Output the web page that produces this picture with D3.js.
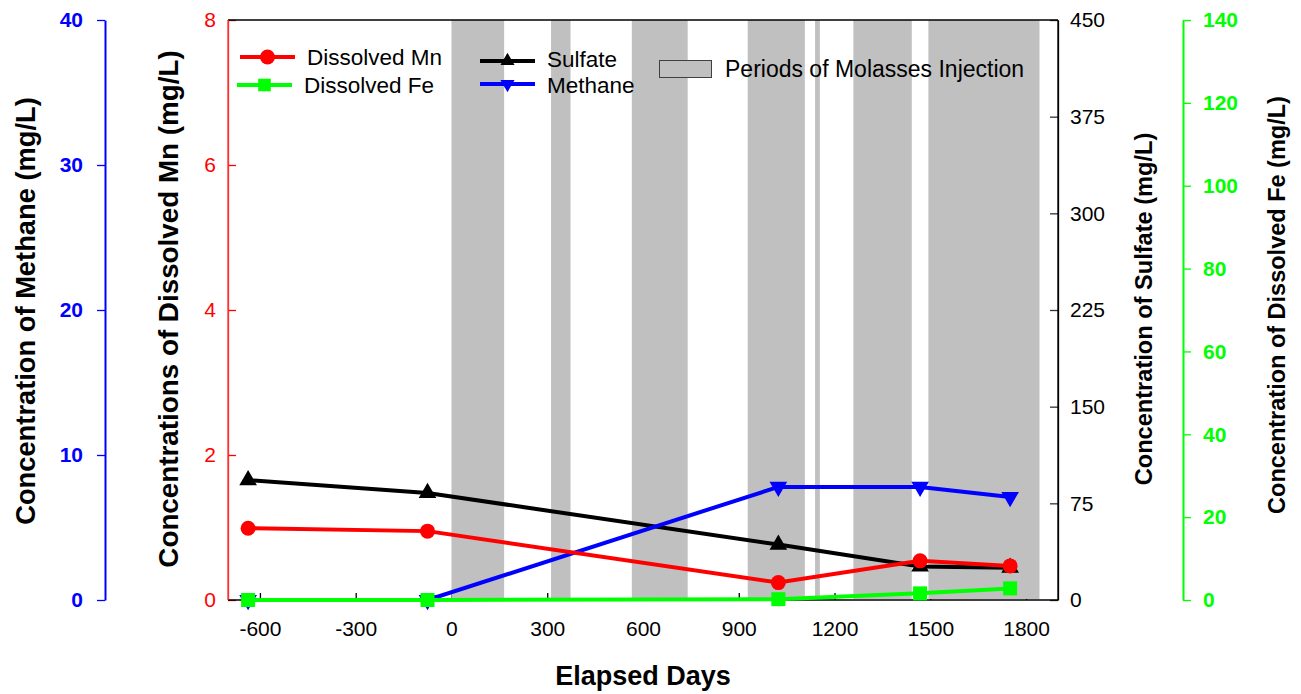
<!DOCTYPE html>
<html><head><meta charset="utf-8">
<script src="https://cdn.jsdelivr.net/npm/d3@7"></script>
<style>
body{margin:0;background:#fff;}
svg{display:block;font-family:"Liberation Sans",Arial,sans-serif;}
</style></head>
<body><svg id="c" width="1301" height="694"></svg>
<script>
const days = [-637, -75, 1024, 1468, 1750];
const mn = [0.99, 0.95, 0.24, 0.54, 0.47];
const fe = [0, 0, 0.2, 1.6, 2.8];
const sulfate = [93, 83, 43, 26, 25];
const methane = [0, 0, 7.8, 7.8, 7.1];
const periods = [[0,165],[312,373],[565,740],[928,1107],[1139,1154],[1259,1442],[1494,1842]];
const xTicks = [-600,-300,0,300,600,900,1200,1500,1800];
const mnTicks = [0,2,4,6,8];
const sulTicks = [0,75,150,225,300,375,450];
const methTicks = [0,10,20,30,40];
const feTicks = [0,20,40,60,80,100,120,140];

const svg = d3.select("#c");
const L=228,R=1058,T=20,B=600;
const x = d3.scaleLinear([-700,1900],[L,R]);
const yMn = d3.scaleLinear([0,8],[B,T]);
const ySul = d3.scaleLinear([0,450],[B,T]);
const yMe = d3.scaleLinear([0,40],[B,T]);
const yFe = d3.scaleLinear([0,140],[B,T]);
const fmt = d=>String(d).replace("\u2212","-");

function style(g,color,size,weight){
  g.selectAll("path.domain").attr("stroke",color).attr("stroke-width",1.3);
  g.selectAll(".tick line").attr("stroke",color).attr("stroke-width",1.3);
  g.selectAll(".tick text").attr("fill",color).attr("font-size",size).attr("font-weight",weight||"normal")
   .attr("font-family","Liberation Sans, Arial, sans-serif");
}
// x axis ticks (inward)
const gx = svg.append("g").attr("transform",`translate(0,${B})`)
  .call(d3.axisBottom(x).tickValues(xTicks).tickFormat(fmt).tickSizeInner(-7).tickSizeOuter(0).tickPadding(21));
style(gx,"#000",21);
gx.select("path.domain").remove();
// red Mn axis
const gMn = svg.append("g").attr("transform",`translate(${L},0)`)
  .call(d3.axisLeft(yMn).tickValues(mnTicks).tickFormat(fmt).tickSizeInner(-8).tickSizeOuter(0).tickPadding(12));
style(gMn,"#ff0000",21);
gMn.select("path.domain").attr("stroke","#ff3030");
// sulfate axis
const gS = svg.append("g").attr("transform",`translate(${R},0)`)
  .call(d3.axisRight(ySul).tickValues(sulTicks).tickFormat(fmt).tickSizeInner(-8).tickSizeOuter(0).tickPadding(12));
style(gS,"#000",21);
gS.selectAll(".tick line").attr("stroke","#333");
// methane axis
const gMe = svg.append("g").attr("transform",`translate(105,0)`)
  .call(d3.axisLeft(yMe).tickValues(methTicks).tickFormat(fmt).tickSizeInner(8).tickSizeOuter(0).tickPadding(14));
style(gMe,"#0000ff",21,"bold");
gMe.select("path.domain").attr("stroke-width",2);
// Fe axis
const gFe = svg.append("g").attr("transform",`translate(1183,0)`)
  .call(d3.axisRight(yFe).tickValues(feTicks).tickFormat(fmt).tickSizeInner(8).tickSizeOuter(0).tickPadding(12));
style(gFe,"#00ff00",21,"bold");
gFe.select("path.domain").attr("stroke-width",2);

// shaded periods
svg.append("g").selectAll("rect").data(periods).join("rect")
  .attr("x",d=>x(d[0])).attr("width",d=>x(d[1])-x(d[0]))
  .attr("y",T).attr("height",B-T-1).attr("fill","#c0c0c0");

// frame
svg.append("line").attr("x1",L).attr("x2",R).attr("y1",T).attr("y2",T).attr("stroke","#000").attr("stroke-width",1.3);
svg.append("line").attr("x1",L).attr("x2",R).attr("y1",B).attr("y2",B).attr("stroke","#000").attr("stroke-width",1.3);
svg.append("line").attr("x1",R).attr("x2",R).attr("y1",T).attr("y2",B).attr("stroke","#000").attr("stroke-width",1.3);
svg.append("line").attr("x1",L).attr("x2",L).attr("y1",T).attr("y2",B).attr("stroke","#ff3030").attr("stroke-width",1.3);

function series(vals,y,color,marker){
  const pts = days.map((d,i)=>[x(d),y(vals[i])]);
  svg.append("path").attr("d",d3.line()(pts)).attr("fill","none").attr("stroke",color).attr("stroke-width",4);
  const g = svg.append("g");
  pts.forEach(p=>drawMarker(g,p[0],p[1],color,marker,1));
}
function drawMarker(g,cx,cy,color,marker,s){
  if(marker==="circle") g.append("circle").attr("cx",cx).attr("cy",cy).attr("r",7.5*s).attr("fill",color);
  else if(marker==="square") g.append("rect").attr("x",cx-7*s).attr("y",cy-7*s).attr("width",14*s).attr("height",14*s).attr("fill",color);
  else if(marker==="up") g.append("path").attr("d",d3.symbol(d3.symbolTriangle,135*s*s)()).attr("transform",`translate(${cx},${cy})`).attr("fill",color);
  else if(marker==="down") g.append("path").attr("d",d3.symbol(d3.symbolTriangle,135*s*s)()).attr("transform",`translate(${cx},${cy}) rotate(180)`).attr("fill",color);
}
series(sulfate,ySul,"#000000","up");
series(methane,yMe,"#0000ff","down");
series(mn,yMn,"#ff0000","circle");
series(fe,yFe,"#00ff00","square");

// legend
const lg = svg.append("g").attr("font-size",22.5).attr("fill","#000");
const legendItems = [
  {label:"Dissolved Mn",color:"#ff0000",m:"circle",x1:240,x2:295,y:57,tx:307,ty:65,s:1},
  {label:"Dissolved Fe",color:"#00ff00",m:"square",x1:237,x2:292,y:85,tx:304,ty:93,s:0.9},
  {label:"Sulfate",color:"#000000",m:"up",x1:480,x2:535,y:61,tx:547,ty:66.5,s:0.8},
  {label:"Methane",color:"#0000ff",m:"down",x1:480,x2:535,y:84,tx:547,ty:92.5,s:0.8}
];
legendItems.forEach(d=>{
  lg.append("line").attr("x1",d.x1).attr("x2",d.x2).attr("y1",d.y).attr("y2",d.y).attr("stroke",d.color).attr("stroke-width",4);
  drawMarker(lg,(d.x1+d.x2)/2,d.y,d.color,d.m,d.s);
  lg.append("text").attr("x",d.tx).attr("y",d.ty).text(d.label);
});
lg.append("rect").attr("x",659.5).attr("y",60.5).attr("width",52).attr("height",17).attr("fill","#c0c0c0").attr("stroke","#404040").attr("stroke-width",1);
lg.append("text").attr("x",725).attr("y",77).attr("font-size",23).text("Periods of Molasses Injection");

// titles
svg.append("text").attr("x",643).attr("y",685).attr("text-anchor","middle").attr("font-weight","bold").attr("font-size",27).text("Elapsed Days");
function vtitle(xp,yp,size,txt){
  svg.append("text").attr("transform",`translate(${xp},${yp}) rotate(-90)`).attr("text-anchor","middle")
    .attr("font-weight","bold").attr("font-size",size).text(txt);
}
vtitle(35,311,27.3,"Concentration of Methane (mg/L)");
vtitle(178,309,27.8,"Concentrations of Dissolved Mn (mg/L)");
vtitle(1152,309,23.6,"Concentration of Sulfate (mg/L)");
vtitle(1285,305,23.5,"Concentration of Dissolved Fe (mg/L)");
</script></body></html>
